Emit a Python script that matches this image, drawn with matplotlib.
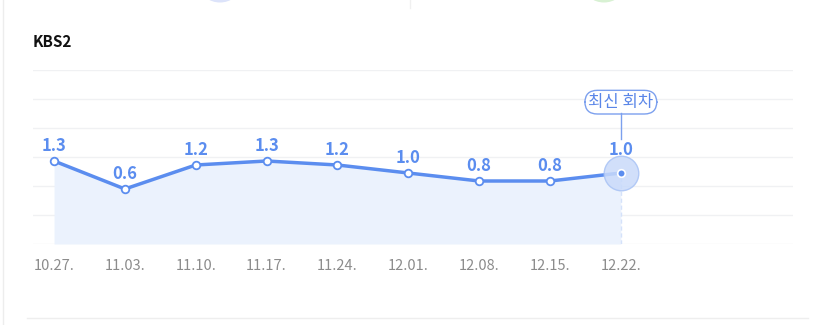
"""Weekly ratings line chart for KBS2 (recreation)."""
import matplotlib

matplotlib.use("Agg")
import matplotlib.pyplot as plt
import numpy as np
from matplotlib.patches import Ellipse
from matplotlib.lines import Line2D

plt.rcParams["font.family"] = ["Noto Sans CJK KR", "DejaVu Sans"]

# data
dates = ["10.27.", "11.03.", "11.10.", "11.17.", "11.24.", "12.01.", "12.08.", "12.15.", "12.22."]
ratings = [1.3, 0.6, 1.2, 1.3, 1.2, 1.0, 0.8, 0.8, 1.0]
title = "KBS2"
badge = "최신 회차"

BLUE = "#5B8DEF"
FILL = "#EBF2FD"
GRID = "#F0F1F3"

W, H = 819, 325
fig = plt.figure(figsize=(W / 100, H / 100), dpi=100)

# axes box in pixels: left 33, right 793, top 70, bottom 244
ax = fig.add_axes([33 / W, (H - 244) / H, 760 / W, 174 / H])
ylo, yhi = -0.775, 3.575
ax.set_ylim(ylo, yhi)
ax.set_xlim(-0.297, 10.43)

x = np.arange(len(ratings))
for g in np.linspace(ylo, yhi, 7):
    ax.axhline(g, color=GRID, lw=1, zorder=0)

ax.fill_between(x, ratings, ylo, color=FILL, lw=0, zorder=1)
ax.plot([x[-1], x[-1]], [ylo, ratings[-1]], color="#D5E2FA", lw=1, ls=(0, (3, 2)), zorder=1)
ax.plot(x, ratings, color=BLUE, lw=2.5, zorder=3, solid_capstyle="round")
ax.scatter(x[:-1], ratings[:-1], s=30, facecolor="white", edgecolor=BLUE, lw=1.3, zorder=4)

# latest point highlight
ax.scatter([x[-1]], [ratings[-1]], s=620, facecolor="#C9DAFA", edgecolor="#A9C3F5", lw=1, alpha=0.85, zorder=4)
ax.scatter([x[-1]], [ratings[-1]], s=30, facecolor=BLUE, edgecolor="white", lw=1.2, zorder=5)

for i, v in enumerate(ratings):
    dy = 10 if i == len(ratings) - 1 else 4.5
    ax.annotate(f"{v:.1f}", (i, v), xytext=(0, dy), textcoords="offset points",
                ha="center", va="bottom", fontsize=12, fontweight="bold", color=BLUE, zorder=6)

# "latest" badge with connector
ax.annotate(badge, (x[-1], ratings[-1]), xytext=(0, 51), textcoords="offset points",
            ha="center", va="center", fontsize=12, color="#5A86E8", zorder=6,
            bbox=dict(boxstyle="round,pad=0.2,rounding_size=0.75", fc="white", ec="#7CA0EE", lw=1))
ax.plot([x[-1], x[-1]], [ratings[-1] + 34 / 40, ratings[-1] + 60 / 40], color="#7CA0EE", lw=1, zorder=6)

ax.set_xticks(x)
ax.set_xticklabels(dates, fontsize=10.5, color="#8C8C8C")
ax.tick_params(axis="x", length=0, pad=11)
ax.set_yticks([])
for s in ax.spines.values():
    s.set_visible(False)

# title
fig.text(33 / W, 1 - 42 / H, title, fontsize=11, fontweight="bold", color="#111111", va="center", ha="left")

# page decorations: left border, bottom rule, divider and cut-off circles at top
fig.add_artist(Line2D([3 / W, 3 / W], [0, 1], color="#EDEDED", lw=1))
fig.add_artist(Line2D([27 / W, 808 / W], [1 - 318 / H, 1 - 318 / H], color="#EEEEEE", lw=1))
fig.add_artist(Line2D([410 / W, 410 / W], [1, 1 - 8 / H], color="#F0F0F0", lw=1))
fig.add_artist(Ellipse((220 / W, 1 + 14 / H), 40 / W, 33 / H, transform=fig.transFigure,
                       color="#DCE3FA", lw=0))
fig.add_artist(Ellipse((604 / W, 1 + 14 / H), 40 / W, 33 / H, transform=fig.transFigure,
                       color="#D8F1D3", lw=0))

fig.savefig("out.png", dpi=100)
